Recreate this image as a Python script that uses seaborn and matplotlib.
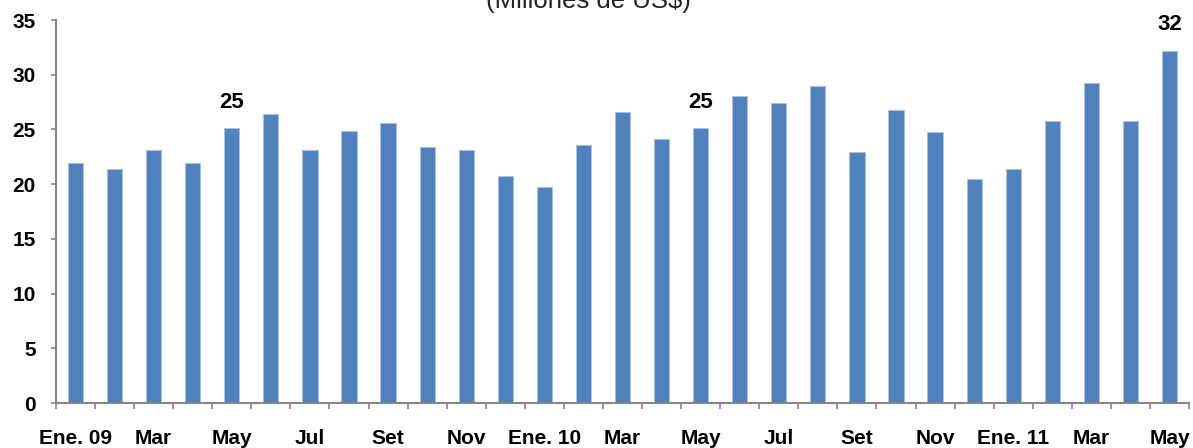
import matplotlib
matplotlib.use("Agg")
import matplotlib.pyplot as plt
import seaborn as sns
import pandas as pd
import numpy as np

# Monthly values, Jan 2009 - May 2011 (millions of US$)
months = [
    "2009-01", "2009-02", "2009-03", "2009-04", "2009-05", "2009-06",
    "2009-07", "2009-08", "2009-09", "2009-10", "2009-11", "2009-12",
    "2010-01", "2010-02", "2010-03", "2010-04", "2010-05", "2010-06",
    "2010-07", "2010-08", "2010-09", "2010-10", "2010-11", "2010-12",
    "2011-01", "2011-02", "2011-03", "2011-04", "2011-05",
]
values = [
    21.9, 21.4, 23.1, 21.9, 25.1, 26.4,
    23.1, 24.9, 25.6, 23.4, 23.1, 20.7,
    19.7, 23.6, 26.6, 24.1, 25.1, 28.1,
    27.4, 29.0, 22.9, 26.8, 24.8, 20.5,
    21.4, 25.8, 29.2, 25.8, 32.2,
]
tick_labels = ["Ene. 09", "Mar", "May", "Jul", "Set", "Nov",
               "Ene. 10", "Mar", "May", "Jul", "Set", "Nov",
               "Ene. 11", "Mar", "May"]
labelled_months = ["2009-05", "2010-05", "2011-05"]

df = pd.DataFrame({"mes": months, "valor": values})

sns.set_theme(style="white")
plt.rcParams["font.family"] = ["Liberation Sans", "DejaVu Sans"]

fig = plt.figure(figsize=(11.93, 4.48), dpi=100)
ax = fig.add_axes([56 / 1193, 1 - 403 / 448, (1189 - 56) / 1193, (403 - 20) / 448])

bar_color = "#4F81BD"
sns.barplot(data=df, x="mes", y="valor", order=months, color=bar_color,
            saturation=1, width=0.39, edgecolor="#A9C0DE", linewidth=0.8, ax=ax)

ax.set_xlim(-0.5, len(months) - 0.5)
ax.set_ylim(0, 35)
ax.set_yticks(np.arange(0, 36, 5))
ax.set_xlabel("")
ax.set_ylabel("")

# Labels every second month, separator ticks at every category boundary
ax.set_xticks(np.arange(0, len(months), 2))
ax.set_xticklabels(tick_labels, fontsize=15, fontweight="bold", color="black")
ax.set_xticks(np.arange(-0.5, len(months), 1), minor=True)
ax.tick_params(axis="x", which="major", length=0, pad=19)
ax.tick_params(axis="x", which="minor", length=4.5, width=1.2, color="#868686",
               direction="out", bottom=True)
ax.tick_params(axis="y", length=3.6, width=1.2, color="#868686", direction="out",
               left=True, pad=11)
for lbl in ax.get_yticklabels():
    lbl.set_fontsize(15)
    lbl.set_fontweight("bold")
    lbl.set_color("black")

for side in ("top", "right"):
    ax.spines[side].set_visible(False)
for side in ("left", "bottom"):
    ax.spines[side].set_color("#868686")
    ax.spines[side].set_linewidth(1.5)

# Value labels on selected bars
for m in labelled_months:
    i = months.index(m)
    v = values[i]
    ax.annotate(f"{v:.0f}", xy=(i, v), xytext=(0, 11), textcoords="offset points",
                ha="center", va="bottom", fontsize=16, fontweight="bold", color="black")

fig.text(588 / 1193, 1 - 13 / 448, "(Millones de US$)", ha="center", va="bottom",
         fontsize=18.5, color="#222222")

fig.savefig("out.png", dpi=100)
